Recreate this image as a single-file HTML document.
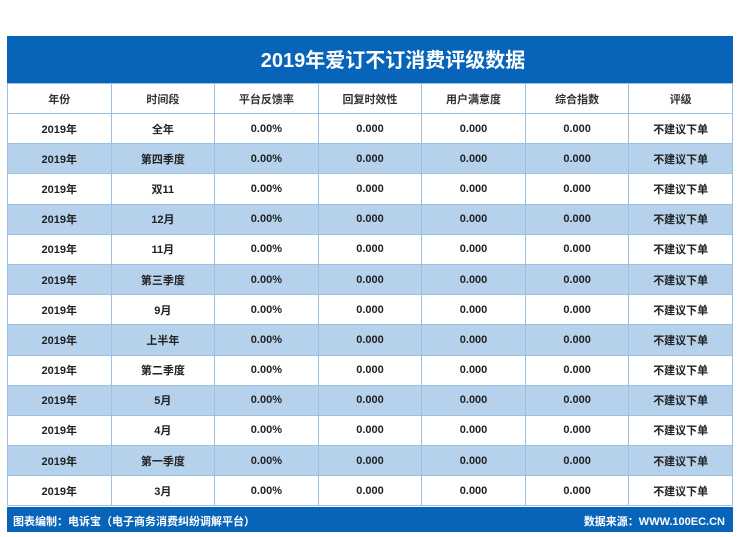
<!DOCTYPE html>
<html><head><meta charset="utf-8"><style>
body{margin:0;width:740px;height:532px;background:#fff;position:relative;overflow:hidden;font-family:"Liberation Sans","Noto Sans CJK SC",sans-serif;}
#wrap{position:absolute;left:7px;top:36px;width:726px;}
#title{height:47px;background:#0864b9;color:#fff;font-size:20px;font-weight:bold;text-align:center;line-height:50px;padding-left:46px;box-sizing:border-box;}
table{border-collapse:collapse;width:726px;table-layout:fixed;}
td{height:29.2px;border:1px solid #9dbfe0;text-align:center;font-size:11px;font-weight:bold;color:#222;padding:0;}
tr.alt td{background:#b5d1ec;}
tr.hd td{height:29px;font-weight:bold;color:#333;}
#foot{position:absolute;left:7px;top:507px;width:726px;height:25px;background:#0864b9;color:#fff;font-size:11px;font-weight:bold;line-height:30px;}
#foot .l{position:absolute;left:6px;}#foot .r{position:absolute;right:8px;}
</style></head><body>
<div id="wrap">
<div id="title">2019年爱订不订消费评级数据</div>
<table><tbody id="tb">
<tr class="hd"><td>年份</td><td>时间段</td><td>平台反馈率</td><td>回复时效性</td><td>用户满意度</td><td>综合指数</td><td>评级</td></tr>
</tbody></table></div>
<div id="foot"><span class="l">图表编制：电诉宝（电子商务消费纠纷调解平台）</span><span class="r">数据来源：WWW.100EC.CN</span></div>
<script>
const periods=["全年","第四季度","双11","12月","11月","第三季度","9月","上半年","第二季度","5月","4月","第一季度","3月"];
const feedback=[0,0,0,0,0,0,0,0,0,0,0,0,0];
const timeliness=[0,0,0,0,0,0,0,0,0,0,0,0,0];
const satisfaction=[0,0,0,0,0,0,0,0,0,0,0,0,0];
const composite=[0,0,0,0,0,0,0,0,0,0,0,0,0];
const ratings=["不建议下单","不建议下单","不建议下单","不建议下单","不建议下单","不建议下单","不建议下单","不建议下单","不建议下单","不建议下单","不建议下单","不建议下单","不建议下单"];
const tb=document.getElementById('tb');
periods.forEach((p,i)=>{
 const tr=document.createElement('tr');
 
 
 if(i%2===1)tr.className='alt';
 const vals=["2019年",p,feedback[i].toFixed(2)+"%",timeliness[i].toFixed(3),satisfaction[i].toFixed(3),composite[i].toFixed(3),ratings[i]];
 vals.forEach(v=>{const td=document.createElement('td');
 
 
 td.textContent=v;tr.appendChild(td);});
 tb.appendChild(tr);
});
</script>
</body></html>
